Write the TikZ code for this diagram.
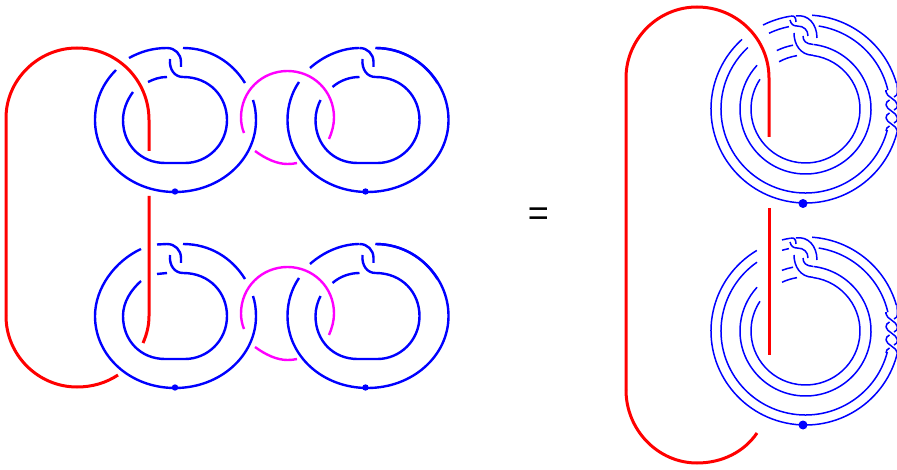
\documentclass[tikz,border=0pt]{standalone}
\usepackage{fontspec}
\setmainfont{Liberation Sans}
\definecolor{kblue}{RGB}{0,0,255}
\definecolor{kred}{RGB}{255,0,0}
\definecolor{kmag}{RGB}{255,0,255}
\tikzset{
  bl/.style={draw=kblue,line width=2.4pt},
  bt/.style={draw=kblue,line width=1.5pt},
  rd/.style={draw=kred,line width=3pt},
  mg/.style={draw=kmag,line width=2.4pt},
  dotS/.style={circle,fill=kblue,inner sep=0pt,minimum size=6.4pt},
  dotB/.style={circle,fill=kblue,inner sep=0pt,minimum size=9pt}
}
% common parts of a small ring, local coordinates
\newcommand{\ringcommon}{%
  \path[bl] (183,48) .. controls (210,48) and (232,62) .. (245,83);
  \path[bl] (170,59) .. controls (169,70) and (175,77) .. (183,77) .. controls (210,77) and (227,97) .. (227,120) .. controls (227,145) and (207,163) .. (185,163) -- (165,163) .. controls (141,163) and (123,145) .. (123,120);
  \path[bl] (95,120) .. controls (95,160) and (130,192) .. (175,192) .. controls (220,192) and (256,160) .. (256,120);
  \path[bl] (167,48) .. controls (175,48) and (181,54) .. (181,62) -- (181,67);
}
% the hooks of a big ring
\newcommand{\bigclasp}{%
  \path[bt] (791,16) .. controls (794,15.5) and (796,17) .. (796,22);
  \path[bt] (790,20) .. controls (791,24) and (793,26) .. (797,26) .. controls (804,26) and (808,30) .. (808,36);
  \path[bt] (796,16) .. controls (808,14) and (817,24) .. (817,38);
  \path[bt] (794,33) .. controls (794,44) and (800,55) .. (813,55.3);
  \path[bt] (803,36) .. controls (803,41) and (806,44) .. (813,44.4);
}
\newcommand{\bigrings}{%
  \path[bt] (805.5,109) ++(-86:94.5 and 94) arc (-86:-16:94.5 and 94);
  \path[bt] (805.5,109) ++(-81:84.5 and 84) arc (-81:-13:84.5 and 84);
  \path[bt] (805.5,109) ++(-83:65.5 and 65) arc (-83:222.3:65.5 and 65);
  \path[bt] (805.5,109) ++(-82:54.5 and 54) arc (-82:213.4:54.5 and 54);
  \path[bt] (897,83) -- (897.5,92);
  \path[bt] (886,90) -- (886,92);
  \foreach \yy in {92,105,118}{
    \path[bt] (886,\yy) .. controls (886.5,\yy+5) and (896.5,\yy+7) .. (897.5,\yy+13);
    \path[bt] (897.5,\yy) .. controls (897.5,\yy+2.5) and (896.5,\yy+4) .. (894,\yy+5);
    \path[bt] (889.5,\yy+8) .. controls (887,\yy+9) and (886,\yy+11) .. (886,\yy+13);
  }
  \bigclasp
}
\begin{document}
\begin{tikzpicture}[x=1pt,y=-1pt]
\clip (0,0) rectangle (897,470);
\fill[white] (0,0) rectangle (897,470);

% left: top-left ring
\ringcommon
\path[bl] (253,100) .. controls (255,106) and (256,113) .. (256,120);
\path[bl] (95,120) .. controls (95,100) and (103,83) .. (116,70);
\path[bl] (129,58) .. controls (140,52) and (152,48) .. (167,48);
\path[bl] (123,120) .. controls (123,110) and (127,100) .. (133,92);
\path[bl] (148,82) .. controls (154,79) and (160,77) .. (167,77);

% left: top-right ring
\begin{scope}[shift={(192.5,0)}]
\ringcommon
\path[bl] (256,120) .. controls (256,80) and (222,48) .. (183,48);
\path[bl] (95,120) .. controls (95,106) and (99,93) .. (106.5,82);
\path[bl] (117.5,68) .. controls (131,56) and (149,48) .. (167,48);
\path[bl] (123,120) .. controls (123,113) and (125,106) .. (128,100);
\path[bl] (140,87) .. controls (148,80) and (158,77) .. (167,77);
\end{scope}

% left: bottom-left ring
\begin{scope}[shift={(0,196)}]
\ringcommon
\path[bl] (253,100) .. controls (255,106) and (256,113) .. (256,120);
\path[bl] (95,120) .. controls (95,92) and (115,65) .. (141,53);
\path[bl] (157,48.5) -- (167,48);
\path[bl] (123,120) .. controls (123,106) and (131,94) .. (141,85);
\path[bl] (157,78) -- (167,77);
\end{scope}

% left: bottom-right ring
\begin{scope}[shift={(192.5,196)}]
\ringcommon
\path[bl] (256,120) .. controls (256,80) and (222,48) .. (183,48);
\path[bl] (95,120) .. controls (95,106) and (99,93) .. (106.5,82);
\path[bl] (117.5,68) .. controls (131,56) and (149,48) .. (167,48);
\path[bl] (123,120) .. controls (123,113) and (125,106) .. (128,100);
\path[bl] (140,87) .. controls (148,80) and (158,77) .. (167,77);
\end{scope}

% magenta links
\foreach \dy in {0,196}{
\begin{scope}[shift={(0,\dy)}]
\path[mg] (244,133) .. controls (242,128) and (241,123) .. (241,117.5) .. controls (241,91) and (262,71) .. (287.5,71) .. controls (313,71) and (334,91) .. (334,117.5) .. controls (334,125) and (332,132) .. (329,139);
\path[mg] (255,151) .. controls (266,159) and (277,164) .. (287.5,164) .. controls (291,164) and (294,163.7) .. (297,163);
\end{scope}}

\node[dotS] (d1) at (175,191.5) {};
\node[dotS] (d2) at (365.5,191.5) {};
\node[dotS] (d3) at (175,387.5) {};
\node[dotS] (d4) at (365.5,387.5) {};

% left red
\path[rd] (6,316) -- (6,118) .. controls (6,80) and (38,48) .. (77,48) .. controls (117,48) and (149,80) .. (149,120) -- (149,151);
\path[rd] (149,196) -- (149,316) .. controls (149,325) and (147,334) .. (143,343);
\path[rd] (6,316) .. controls (6,355) and (38,387) .. (77,387) .. controls (92,387) and (106,383) .. (118,375);

\node[font=\fontsize{36}{36}\selectfont] (eq) at (538.5,217) {=};

% right: top big ring
\bigrings
\path[bt] (805.5,109) ++(12:94.5 and 94) arc (12:227.8:94.5 and 94);
\path[bt] (805.5,109) ++(14.5:84.5 and 84) arc (14.5:227:84.5 and 84);
\path[bt] (805.5,109) ++(243.3:94.5 and 94) arc (243.3:261:94.5 and 94);
\path[bt] (805.5,109) ++(244.4:84.5 and 84) arc (244.4:258.7:84.5 and 84);
\path[bt] (805.5,109) ++(244:65.5 and 65) arc (244:259:65.5 and 65);
\path[bt] (805.5,109) ++(241:54.5 and 54) arc (241:261:54.5 and 54);
\node[dotB] (d5) at (803,203.5) {};

% right: bottom big ring
\begin{scope}[shift={(0,222)}]
\bigrings
\path[bt] (805.5,109) ++(12:94.5 and 94) arc (12:239:94.5 and 94);
\path[bt] (805.5,109) ++(14.5:84.5 and 84) arc (14.5:235:84.5 and 84);
\path[bt] (805.5,109) ++(255.6:94.5 and 94) arc (255.6:261:94.5 and 94);
\path[bt] (805.5,109) ++(253.9:84.5 and 84) arc (253.9:258.7:84.5 and 84);
\path[bt] (805.5,109) ++(248.9:65.5 and 65) arc (248.9:259:65.5 and 65);
\path[bt] (805.5,109) ++(244.5:54.5 and 54) arc (244.5:261:54.5 and 54);
\node[dotB] (d6) at (803,203) {};
\end{scope}

% right red
\path[rd] (626,390) -- (626,78) .. controls (626,39) and (658,7) .. (697,7) .. controls (737,7) and (769,39) .. (769,78) -- (769,137);
\path[rd] (769,208) -- (769,355);
\path[rd] (626,390) .. controls (626,430) and (658,463) .. (697,463) .. controls (722,463) and (744,452) .. (757,433);
\end{tikzpicture}
\end{document}
